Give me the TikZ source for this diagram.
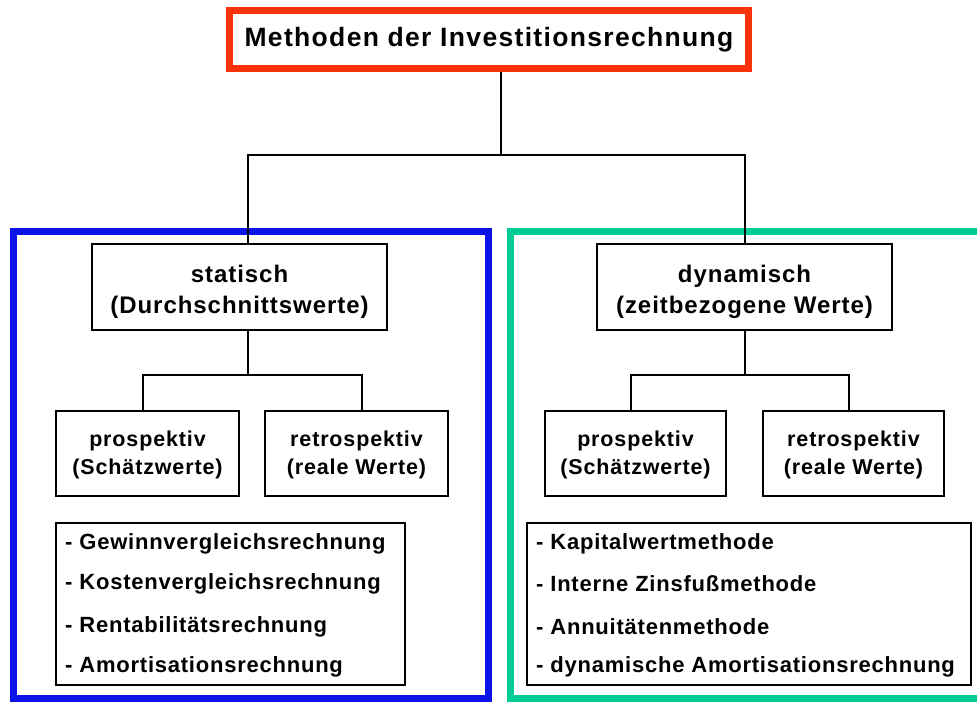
\documentclass[tikz,border=0pt]{standalone}
\usepackage{fontspec}
\setmainfont{Liberation Sans}
\definecolor{titlered}{RGB}{250,50,10}
\definecolor{frameblue}{RGB}{10,20,230}
\definecolor{frameteal}{RGB}{0,204,150}
\newcommand{\titlefont}{\fontsize{26.5}{30}\selectfont\bfseries\addfontfeature{LetterSpace=5}}
\newcommand{\boxfont}{\fontsize{24}{31}\selectfont\bfseries\addfontfeature{LetterSpace=4}}
\newcommand{\subfont}{\fontsize{21.5}{28}\selectfont\bfseries\addfontfeature{LetterSpace=4}}
\newcommand{\listfont}{\fontsize{22}{26}\selectfont\bfseries\addfontfeature{LetterSpace=3.5}}
\begin{document}
\begin{tikzpicture}[x=1pt,y=-1pt,
  box/.style={draw=black,line width=1.6pt,fill=white,inner sep=0pt},
  boxtext/.style={inner sep=0pt,align=center,font=\boxfont},
  subtext/.style={inner sep=0pt,align=center,font=\subfont},
  frame/.style={line width=7pt,inner sep=0pt},
  conn/.style={draw=black,line width=1.4pt}]
\useasboundingbox (0,0) rectangle (977,702);
\fill[white] (0,0) rectangle (977,702);
% frames
\node[frame,draw=frameblue,minimum width=475pt,minimum height=467pt] (fl) at (251,465) {};
\node[frame,draw=frameteal,minimum width=480pt,minimum height=467pt] (fr) at (750.5,465) {};
% title
\node[draw=titlered,line width=7pt,fill=white,minimum width=519pt,minimum height=58pt,inner sep=0pt,font=\titlefont] (title) at (489,39.5) {Methoden der Investitionsrechnung};
% level 1
\node[box,minimum width=295pt,minimum height=86pt] (stat) at (239.5,287) {};
\node[boxtext] (statT) at ([yshift=-5pt]stat.center) {statisch\\(Durchschnittswerte)};
\node[box,minimum width=295pt,minimum height=86pt] (dyn) at (744.5,287) {};
\node[boxtext] (dynT) at ([yshift=-5pt]dyn.center) {dynamisch\\(zeitbezogene Werte)};
% level 2
\node[box,minimum width=183pt,minimum height=85pt] (pl) at (147.5,453.5) {};
\node[subtext] (plT) at ([yshift=-1pt]pl.center) {prospektiv\\(Schätzwerte)};
\node[box,minimum width=183pt,minimum height=85pt] (rl) at (356.5,453.5) {};
\node[subtext] (rlT) at ([yshift=-1pt]rl.center) {retrospektiv\\(reale Werte)};
\node[box,minimum width=181pt,minimum height=85pt] (pr) at (635.5,453.5) {};
\node[subtext] (prT) at ([yshift=-1pt]pr.center) {prospektiv\\(Schätzwerte)};
\node[box,minimum width=181pt,minimum height=85pt] (rr) at (853.5,453.5) {};
\node[subtext] (rrT) at ([yshift=-1pt]rr.center) {retrospektiv\\(reale Werte)};
% lists
\node[box,minimum width=349pt,minimum height=162pt] (ll) at (230.5,604) {};
\node[box,minimum width=444pt,minimum height=162pt] (lr) at (749,604) {};
\begin{scope}[every node/.style={anchor=west,inner sep=0pt,font=\listfont}]
\node (l1) at (65,544) {- Gewinnvergleichsrechnung};
\node (l2) at (65,584) {- Kostenvergleichsrechnung};
\node (l3) at (65,627) {- Rentabilitätsrechnung};
\node (l4) at (65,667) {- Amortisationsrechnung};
\node (r1) at (536,544) {- Kapitalwertmethode};
\node (r2) at (536,584) {- Interne Zinsfußmethode};
\node (r3) at (536,627) {- Annuitätenmethode};
\node (r4) at (536,667) {- dynamische Amortisationsrechnung};
\end{scope}
% connectors
\coordinate (j0) at (501,155);
\coordinate (jl) at (248,375);
\coordinate (jr) at (745,375);
\draw[conn] (title.south -| j0) -- (j0);
\draw[conn] (stat.north -| jl) |- (j0) -| (dyn.north -| jr);
\draw[conn] (stat.south -| jl) -- (jl);
\draw[conn] (pl.north -| 143,0) |- (jl) -| (rl.north -| 362,0);
\draw[conn] (dyn.south -| jr) -- (jr);
\draw[conn] (pr.north -| 631,0) |- (jr) -| (rr.north -| 849,0);
\end{tikzpicture}
\end{document}
